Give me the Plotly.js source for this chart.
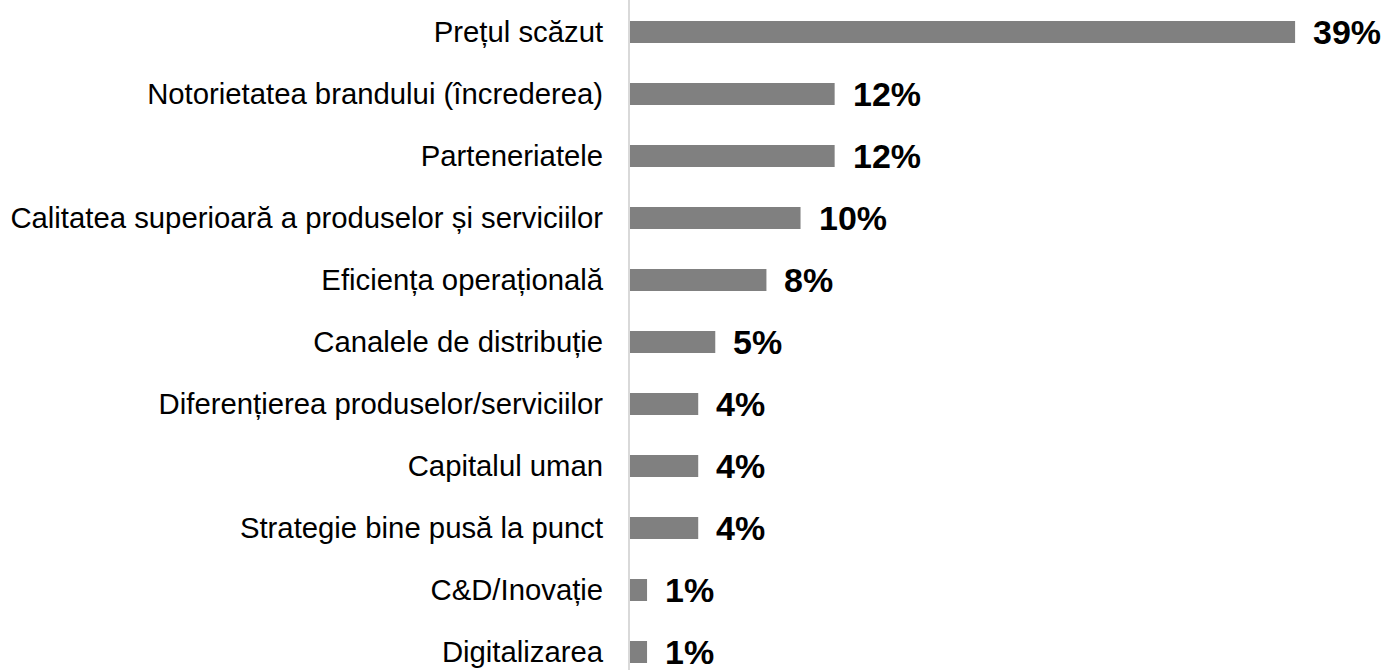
<!DOCTYPE html>
<html>
<head>
<meta charset="utf-8">
<script src="https://cdn.plot.ly/plotly-3.0.1.min.js"></script>
<style>html,body{margin:0;padding:0;background:#fff;}#chart{width:1386px;height:670px;}</style>
</head>
<body>
<div id="chart"></div>
<script>
const categories = [
  "Prețul scăzut",
  "Notorietatea brandului (încrederea)",
  "Parteneriatele",
  "Calitatea superioară a produselor și serviciilor",
  "Eficiența operațională",
  "Canalele de distribuție",
  "Diferențierea produselor/serviciilor",
  "Capitalul uman",
  "Strategie bine pusă la punct",
  "C&D/Inovație",
  "Digitalizarea"
];
const values = [39, 12, 12, 10, 8, 5, 4, 4, 4, 1, 1];
const valueLabels = values.map(v => v + "%");

const FONT = "Arial, 'Liberation Sans', sans-serif";

const trace = {
  type: "bar",
  orientation: "h",
  x: values,
  y: categories,
  width: 0.355,
  marker: {color: "#808080"},
  hoverinfo: "none"
};

const annotations = values.map((v, i) => ({
  x: v,
  y: categories[i],
  xref: "x",
  yref: "y",
  text: "<b>" + valueLabels[i] + "</b>",
  showarrow: false,
  xanchor: "left",
  yanchor: "middle",
  xshift: 16,
  font: {family: FONT, size: 34, color: "#000000"}
}));

const layout = {
  width: 1386,
  height: 670,
  margin: {l: 630, r: 0, t: 0, b: 0, pad: 0},
  paper_bgcolor: "#ffffff",
  plot_bgcolor: "#ffffff",
  showlegend: false,
  xaxis: {
    range: [0, 44.33],
    showgrid: false,
    zeroline: false,
    showline: false,
    showticklabels: false,
    ticks: ""
  },
  yaxis: {
    type: "category",
    range: [10.29, -0.516],
    showgrid: false,
    zeroline: false,
    showline: true,
    linecolor: "#d9d9d9",
    linewidth: 2,
    ticks: "",
    ticklabelstandoff: 19,
    tickfont: {family: FONT, size: 29.3, color: "#000000"}
  },
  annotations: annotations
};

Plotly.newPlot("chart", [trace], layout, {staticPlot: true, displayModeBar: false});
</script>
</body>
</html>
